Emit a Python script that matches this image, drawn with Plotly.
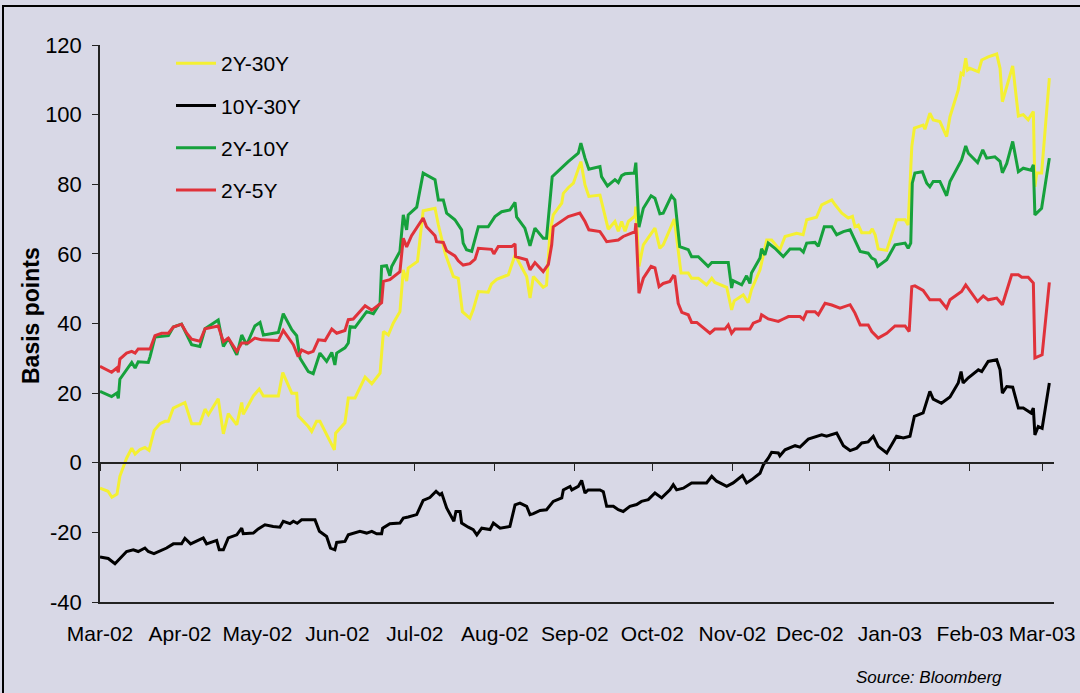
import numpy as np
import pandas as pd
import plotly.graph_objects as go

START = "2002-03-01"
END_DAYS = 369.6

# ---- data: day offsets from 1 Mar 2002 and spread values (basis points) ----
s2_30_day = [0, 3.1, 4.6, 6.6, 7.7, 10.3, 12.3, 13.6, 15.5, 17.4,
             19.0, 21.0, 23.2, 25.2, 26.5, 28.4, 32.9, 35.5, 38.7, 40.7,
             42.0, 45.8, 47.8, 49.7, 53.0, 54.9, 55.5, 59.4, 61.7, 63.3,
             69.1, 70.8, 74.3, 76.2, 76.8, 80.7, 82.0, 83.9, 85.2, 88.4,
             90.8, 91.3, 94.9, 96.2, 98.8, 102.7, 105.3, 108.5, 109.8, 111.7,
             113.6, 116.2, 117.5, 118.8, 119.4, 123.0, 125.2, 129.8, 131.1, 133.7,
             136.9, 138.8, 140.4, 143.3, 144.6, 146.6, 150.4, 151.7, 153.7, 158.2,
             159.5, 160.8, 165.3, 166.6, 167.9, 171.7, 173.0, 174.3, 175.6, 178.9,
             179.5, 181.4, 183.4, 186.3, 187.9, 189.4, 193.7, 194.3, 196.9, 199.5,
             200.8, 202.1, 203.4, 204.7, 207.3, 207.6, 208.8, 210.5, 215.0, 216.9,
             218.2, 222.5, 225.1, 227.9, 229.2, 231.8, 235.0, 237.0, 238.2, 242.8,
             244.7, 245.7, 249.2, 251.1, 252.4, 255.7, 258.3, 260.2, 263.4, 265.4,
             269.9, 272.4, 273.8, 277.6, 279.6, 283.5, 284.8, 287.4, 289.9, 291.5,
             292.5, 293.8, 295.1, 298.3, 299.2, 300.3, 301.5, 304.8, 308.6, 311.9,
             313.1, 314.5, 315.5, 318.9, 319.6, 321.5, 322.8, 325.4, 328.0, 329.3,
             332.5, 333.6, 334.4, 335.4, 336.1, 337.0, 340.3, 341.6, 344.1, 347.4,
             348.7, 349.6, 351.3, 353.6, 355.8, 357.7, 359.6, 361.6, 362.2, 362.9,
             364.8, 367.8]
s2_30_val = [-7.3, -8.2, -9.9, -9.0, -3.9, 1.3, 4.2, 2.5, 3.8, 4.4,
             3.6, 9.3, 11.2, 11.9, 11.9, 15.7, 17.3, 11.2, 11.2, 15.4,
             13.8, 18.4, 8.3, 14.1, 10.9, 17.3, 13.9, 19.2, 21.2, 19.2,
             19.2, 25.9, 20.0, 20.0, 13.5, 10.4, 9.0, 11.9, 11.9, 7.1,
             3.7, 8.5, 11.5, 18.6, 18.6, 24.6, 22.7, 25.7, 37.7, 36.7,
             40.1, 43.4, 55.4, 52.2, 55.9, 57.8, 72.4, 73.1, 68.3, 60.2,
             53.5, 53.0, 43.4, 41.5, 44.0, 49.2, 49.0, 51.4, 52.7, 54.0,
             56.8, 59.7, 53.5, 47.3, 53.5, 50.4, 51.0, 65.9, 71.2, 74.6,
             77.4, 79.0, 80.3, 86.5, 79.8, 76.5, 76.9, 75.0, 67.1, 69.3,
             66.5, 69.3, 66.5, 69.3, 70.9, 73.6, 56.4, 62.6, 67.4, 61.6,
             62.6, 70.0, 54.5, 54.5, 53.0, 53.0, 51.1, 53.0, 51.8, 50.4,
             43.9, 46.5, 48.2, 46.0, 49.7, 55.4, 64.0, 64.0, 61.2, 65.0,
             65.9, 65.5, 69.8, 70.5, 74.1, 75.5, 74.1, 71.7, 70.3, 70.8,
             67.8, 68.3, 66.1, 66.1, 67.2, 65.5, 61.4, 61.0, 69.8, 69.8,
             68.3, 90.8, 96.1, 97.0, 95.8, 100.4, 98.5, 98.0, 93.7, 99.4,
             107.1, 111.9, 111.5, 116.2, 112.8, 113.3, 112.3, 115.7, 116.6, 117.4,
             113.3, 103.7, 108.0, 114.0, 99.6, 100.0, 98.5, 100.9, 79.3, 83.2,
             83.2, 110.5]

s10_30_day = [0, 3.2, 5.8, 10.3, 12.9, 14.8, 17.4, 18.7, 20.9, 24.5,
              25.8, 28.4, 31.6, 32.9, 35.1, 40.0, 41.3, 45.2, 46.2, 47.8,
              49.7, 53.0, 54.9, 55.5, 59.4, 61.3, 63.9, 67.1, 69.7, 71.0,
              73.6, 74.9, 76.4, 78.1, 83.3, 85.0, 87.8, 89.3, 91.0, 91.7,
              94.9, 96.2, 100.7, 103.3, 105.3, 107.2, 109.1, 109.5, 112.3, 116.2,
              117.5, 119.4, 122.7, 125.2, 127.8, 130.2, 131.7, 132.4, 134.3, 137.1,
              137.9, 139.5, 140.1, 142.7, 144.6, 146.0, 147.9, 151.1, 152.4, 155.0,
              158.8, 160.8, 162.7, 165.3, 166.6, 167.9, 170.5, 173.0, 175.6, 178.9,
              179.5, 182.1, 182.8, 185.3, 186.6, 187.9, 189.1, 193.7, 195.0, 196.3,
              198.9, 200.8, 202.7, 205.3, 207.9, 209.8, 212.4, 215.0, 217.6, 220.8,
              222.1, 223.4, 226.0, 229.2, 235.0, 237.0, 238.9, 242.8, 245.3, 248.9,
              250.5, 252.4, 255.7, 257.0, 258.9, 260.2, 262.8, 263.4, 265.4, 269.3,
              271.2, 274.4, 277.0, 279.6, 281.5, 285.4, 288.0, 290.6, 293.2, 295.1,
              297.6, 299.6, 301.5, 304.8, 306.7, 308.6, 311.2, 313.8, 315.5, 318.9,
              321.5, 322.8, 326.0, 328.0, 329.3, 332.5, 333.6, 334.4, 336.4, 340.3,
              341.6, 344.1, 347.4, 348.7, 349.6, 351.3, 353.6, 355.8, 357.7, 360.7,
              361.6, 362.2, 363.5, 365.0, 367.8]
s10_30_val = [-27.1, -27.5, -29.0, -25.5, -25.0, -25.5, -24.5, -25.5, -26.1, -25.0,
              -24.5, -23.3, -23.3, -21.7, -23.3, -21.6, -23.3, -22.3, -25.0, -25.0,
              -21.6, -20.7, -18.8, -20.4, -20.2, -19.0, -17.8, -18.3, -18.5, -16.8,
              -17.5, -16.8, -17.4, -16.4, -16.4, -19.7, -21.2, -24.5, -25.0, -22.9,
              -22.6, -20.7, -19.7, -20.2, -19.7, -20.4, -20.4, -18.8, -17.5, -17.3,
              -15.9, -15.6, -14.9, -10.8, -10.0, -8.2, -9.2, -8.8, -13.0, -16.8,
              -14.0, -14.0, -17.3, -18.5, -19.2, -20.7, -18.8, -19.2, -17.3, -18.8,
              -18.3, -12.1, -11.6, -12.5, -14.9, -14.6, -13.7, -13.5, -11.1, -10.1,
              -7.8, -6.8, -7.8, -6.8, -5.1, -8.7, -7.8, -7.8, -8.3, -12.5,
              -12.5, -13.5, -14.0, -12.5, -12.0, -11.1, -10.6, -8.7, -10.1, -7.8,
              -6.3, -7.8, -7.3, -5.8, -5.8, -3.9, -5.3, -6.8, -5.8, -3.7,
              -5.8, -4.9, -3.0, -0.6, 1.3, 3.0, 2.8, 2.0, 3.7, 4.9,
              4.5, 6.8, 7.4, 8.0, 7.6, 8.5, 4.9, 3.5, 4.2, 5.7,
              6.0, 7.6, 4.7, 2.8, 5.2, 7.6, 7.1, 7.6, 13.3, 14.3,
              20.5, 18.3, 17.1, 18.3, 18.9, 22.9, 26.2, 22.9, 24.4, 26.7,
              26.2, 29.1, 29.6, 26.7, 20.0, 21.9, 21.7, 15.7, 15.7, 14.3,
              15.7, 8.0, 10.4, 9.9, 22.9]

s2_10_day = [0, 4.5, 6.5, 7.1, 7.7, 10.3, 12.3, 13.6, 14.8, 18.7,
             19.4, 21.3, 26.5, 28.4, 31.6, 35.5, 38.7, 40.7, 45.8, 47.8,
             49.7, 53.0, 54.9, 56.8, 60.0, 62.0, 63.3, 69.1, 71.0, 74.3,
             76.2, 77.5, 80.7, 82.6, 85.2, 87.8, 89.8, 91.0, 91.7, 94.9,
             96.2, 96.9, 98.8, 103.3, 105.9, 108.5, 109.1, 111.0, 112.3, 113.0,
             116.2, 117.5, 118.8, 119.4, 122.7, 125.2, 129.8, 131.1, 133.0, 134.3,
             137.5, 140.1, 140.7, 142.0, 144.0, 146.6, 150.4, 153.0, 155.6, 158.8,
             160.8, 161.4, 164.6, 166.6, 168.5, 171.7, 173.0, 175.2, 181.4, 185.3,
             186.3, 187.9, 189.4, 193.7, 194.3, 196.6, 199.5, 200.8, 202.1, 203.4,
             207.0, 207.6, 208.8, 210.5, 213.5, 215.0, 216.9, 218.2, 221.4, 222.7,
             224.6, 227.9, 229.2, 231.8, 235.6, 237.0, 243.4, 244.7, 245.3, 248.6,
             250.5, 251.8, 252.4, 255.7, 256.3, 257.6, 258.9, 261.5, 264.7, 267.3,
             271.2, 272.5, 273.8, 277.0, 278.3, 280.6, 283.5, 285.4, 288.0, 290.6,
             292.5, 294.5, 297.6, 299.0, 300.3, 301.3, 304.8, 308.0, 311.9, 313.1,
             314.1, 314.7, 315.7, 318.6, 320.3, 321.5, 322.8, 325.4, 328.0, 329.3,
             333.8, 335.4, 336.4, 340.0, 342.0, 343.5, 346.7, 348.7, 349.6, 351.3,
             353.6, 355.8, 357.7, 360.7, 361.6, 362.2, 364.8, 367.8]
s2_10_val = [20.5, 19.0, 20.0, 18.5, 24.0, 26.7, 28.8, 27.2, 29.0, 28.8,
             30.5, 36.1, 36.5, 39.0, 39.8, 33.9, 33.4, 38.5, 41.0, 33.4,
             35.8, 31.0, 36.7, 33.9, 39.3, 40.3, 36.7, 37.4, 42.8, 38.2,
             36.5, 30.0, 26.2, 25.6, 31.5, 29.1, 31.7, 28.1, 31.5, 33.0,
             34.4, 39.1, 38.9, 43.4, 42.8, 45.9, 56.4, 56.6, 53.7, 56.4,
             60.7, 71.2, 66.9, 71.2, 73.4, 83.2, 81.3, 75.5, 75.5, 71.7,
             69.8, 66.9, 63.1, 61.2, 60.7, 67.8, 67.8, 70.7, 72.1, 72.6,
             74.8, 70.6, 67.4, 62.3, 67.4, 64.5, 64.5, 82.2, 86.5, 88.9,
             91.8, 87.5, 84.3, 85.1, 82.2, 79.5, 81.3, 80.5, 82.5, 83.0,
             83.2, 86.2, 67.7, 73.1, 76.7, 76.0, 71.5, 71.7, 76.7, 75.5,
             62.1, 61.2, 59.2, 59.2, 56.4, 57.5, 57.5, 50.2, 52.3, 51.1,
             53.7, 51.5, 54.5, 58.8, 61.5, 59.7, 63.1, 61.6, 59.2, 61.4,
             61.4, 60.5, 63.1, 63.3, 62.2, 67.8, 67.8, 65.5, 66.4, 66.9,
             64.0, 60.7, 60.2, 58.8, 58.3, 56.4, 58.3, 62.6, 63.1, 61.6,
             63.1, 80.3, 83.2, 83.6, 80.3, 79.3, 80.8, 80.8, 76.7, 80.8,
             87.0, 91.0, 88.9, 86.2, 89.9, 87.5, 87.9, 86.6, 83.3, 86.0,
             92.3, 83.6, 84.6, 84.0, 85.6, 71.2, 73.1, 87.5]

s2_5_day = [0, 4.5, 6.5, 7.1, 7.7, 10.3, 12.3, 13.6, 14.8, 19.4,
            21.3, 23.9, 26.5, 28.4, 31.6, 33.6, 35.5, 38.7, 40.7, 43.3,
            45.8, 47.8, 49.7, 53.0, 54.9, 57.4, 60.0, 62.6, 69.1, 71.0,
            74.9, 76.8, 78.1, 80.7, 82.6, 84.6, 87.2, 89.8, 91.7, 94.9,
            96.2, 98.1, 102.7, 105.3, 109.1, 109.8, 112.3, 116.2, 117.5, 118.8,
            120.7, 125.2, 126.5, 129.8, 130.4, 133.0, 134.3, 137.5, 138.8, 140.7,
            143.3, 145.3, 146.6, 151.7, 152.6, 154.3, 159.5, 160.8, 161.0, 165.3,
            166.6, 168.5, 171.7, 173.7, 175.0, 175.6, 181.4, 185.9, 187.9, 189.4,
            193.7, 195.0, 196.3, 200.8, 202.7, 207.3, 207.6, 208.8, 210.5, 213.5,
            215.0, 216.6, 218.2, 220.8, 222.1, 222.7, 224.0, 225.4, 227.9, 229.2,
            231.2, 236.3, 238.2, 242.1, 243.4, 244.7, 246.0, 251.8, 253.1, 255.7,
            256.3, 258.9, 262.8, 264.7, 266.7, 271.2, 272.5, 273.8, 277.0, 278.3,
            280.9, 283.5, 286.7, 290.6, 292.5, 294.5, 297.6, 299.0, 301.5, 304.8,
            308.0, 311.9, 313.5, 314.5, 315.7, 318.9, 321.5, 325.4, 328.0, 329.3,
            333.8, 335.4, 340.0, 342.2, 344.1, 347.4, 349.6, 353.2, 355.8, 357.1,
            359.6, 361.6, 362.2, 365.0, 367.8]
s2_5_val = [27.7, 26.0, 27.2, 26.0, 29.8, 31.5, 32.0, 31.5, 32.7, 32.7,
            36.5, 37.2, 37.2, 39.0, 39.8, 37.2, 35.5, 34.9, 38.5, 38.8,
            39.3, 34.8, 35.8, 32.0, 34.4, 34.4, 35.8, 35.3, 35.1, 38.0,
            33.9, 30.5, 32.4, 31.5, 32.0, 35.3, 35.1, 38.4, 37.2, 38.0,
            41.1, 41.3, 45.1, 43.8, 46.0, 52.1, 52.6, 54.9, 64.5, 62.0,
            65.2, 70.3, 67.8, 65.2, 63.5, 63.3, 60.9, 59.4, 58.0, 56.8,
            57.2, 58.5, 61.6, 61.3, 60.0, 62.1, 62.1, 62.9, 59.2, 58.3,
            55.4, 57.5, 54.9, 57.0, 62.6, 67.8, 70.7, 71.7, 69.3, 66.9,
            66.4, 65.0, 63.5, 64.0, 65.0, 66.4, 68.8, 48.7, 53.0, 56.4,
            56.0, 50.6, 51.5, 52.1, 53.7, 53.5, 45.8, 43.2, 42.5, 40.3,
            40.3, 37.2, 38.4, 38.4, 39.6, 37.2, 38.4, 38.4, 40.1, 40.9,
            42.5, 41.3, 40.6, 41.3, 42.0, 42.0, 41.2, 43.4, 43.4, 42.5,
            45.8, 45.3, 44.4, 45.4, 43.0, 39.6, 39.6, 37.7, 35.8, 37.2,
            39.3, 39.3, 37.7, 50.6, 50.8, 49.5, 46.8, 46.8, 44.4, 46.8,
            49.2, 51.1, 46.3, 47.9, 46.8, 47.3, 45.4, 54.0, 54.0, 53.3,
            53.3, 51.6, 30.1, 31.0, 51.8]

series_names = ["2Y-30Y", "10Y-30Y", "2Y-10Y", "2Y-5Y"]
series_days = [s2_30_day, s10_30_day, s2_10_day, s2_5_day]
series_vals = [s2_30_val, s10_30_val, s2_10_val, s2_5_val]
series_colors = ["#f4f032", "#000000", "#16a13c", "#e0323a"]

y_tick_vals = [-40, -20, 0, 20, 40, 60, 80, 100, 120]
y_tick_text = ["-40", "-20", "0", "20", "40", "60", "80", "100", "120"]

FONT = "Liberation Sans, Arial, Helvetica, sans-serif"
BG = "#d8d8e6"

# plot area in page pixels
PL, PR, PT, PB = 100, 1054, 45, 602
PW, PH = PR - PL, PB - PT


def px_x(px):
    return (px - PL) / PW


def px_y(py):
    return (PB - py) / PH


def to_dates(days):
    return pd.Timestamp(START) + pd.to_timedelta(np.asarray(days, dtype=float), unit="D")


fig = go.Figure()
for i, (name, d, v, c) in enumerate(zip(series_names, series_days, series_vals, series_colors)):
    fig.add_trace(go.Scatter(
        x=to_dates(d), y=v, name=name, mode="lines",
        line=dict(color=c, width=3), legendgroup=f"g{i}",
        hoverinfo="skip",
    ))

# empty trace to host the labelled bottom axis
fig.add_trace(go.Scatter(x=[pd.Timestamp(START)], y=[None], xaxis="x2", showlegend=False,
                         hoverinfo="skip", mode="lines"))

x_range = [pd.Timestamp(START), pd.Timestamp(START) + pd.Timedelta(days=END_DAYS)]
y_min, y_max = -40, 120

fig.update_layout(
    width=1080, height=693,
    margin=dict(l=PL, r=1080 - PR, t=PT, b=693 - PB, autoexpand=False),
    paper_bgcolor=BG, plot_bgcolor=BG,
    font=dict(family=FONT, size=21, color="#000000"),
    showlegend=True,
    legend=dict(x=px_x(171), y=px_y(43), xanchor="left", yanchor="top",
                bgcolor="rgba(0,0,0,0)", font=dict(size=21, family=FONT),
                tracegroupgap=12, itemwidth=40),
    xaxis=dict(
        type="date", range=x_range, anchor="free", position=(0 - y_min) / (y_max - y_min),
        showgrid=False, zeroline=False, showline=True, linecolor="#222222", linewidth=1.5,
        ticks="outside", ticklen=7, tickwidth=1.2, tickcolor="#222222",
        tick0=START, dtick="M1", showticklabels=False, automargin=False,
    ),
    xaxis2=dict(
        type="date", range=x_range, overlaying="x", anchor="y", side="bottom",
        showgrid=False, zeroline=False, showline=True, linecolor="#222222", linewidth=1.5,
        ticks="", tick0=START, dtick="M1", tickformat="%b-%y",
        tickfont=dict(size=21, family=FONT), ticklabelstandoff=12, automargin=False,
    ),
    yaxis=dict(
        range=[y_min, y_max], tickvals=y_tick_vals, ticktext=y_tick_text,
        showgrid=False, zeroline=False,
        showline=True, linecolor="#222222", linewidth=1.5,
        ticks="outside", ticklen=6, tickwidth=1.2, tickcolor="#222222",
        tickfont=dict(size=22, family=FONT), ticklabelstandoff=6, automargin=False,
    ),
    annotations=[
        dict(text="<b>Basis points</b>", xref="paper", yref="paper",
             x=px_x(31), y=px_y(316), xanchor="center", yanchor="middle", textangle=-90,
             showarrow=False, font=dict(size=23, family=FONT, color="#000000")),
        dict(text="<i>Source: Bloomberg</i>", xref="paper", yref="paper",
             x=px_x(1004), y=px_y(677), xanchor="right", yanchor="middle",
             showarrow=False, font=dict(size=17, family=FONT, color="#000000")),
    ],
    shapes=[dict(
        type="rect", xref="paper", yref="paper",
        x0=px_x(3), x1=px_x(1200), y0=px_y(760), y1=px_y(6),
        line=dict(color="#000000", width=2), fillcolor="rgba(0,0,0,0)", layer="below",
    )],
)

# remove the browser's default 8px page margin so the figure sits at the window origin
fig.write_html("out.html", config={"displayModeBar": False},
               post_script="document.body.style.margin='0px';")
